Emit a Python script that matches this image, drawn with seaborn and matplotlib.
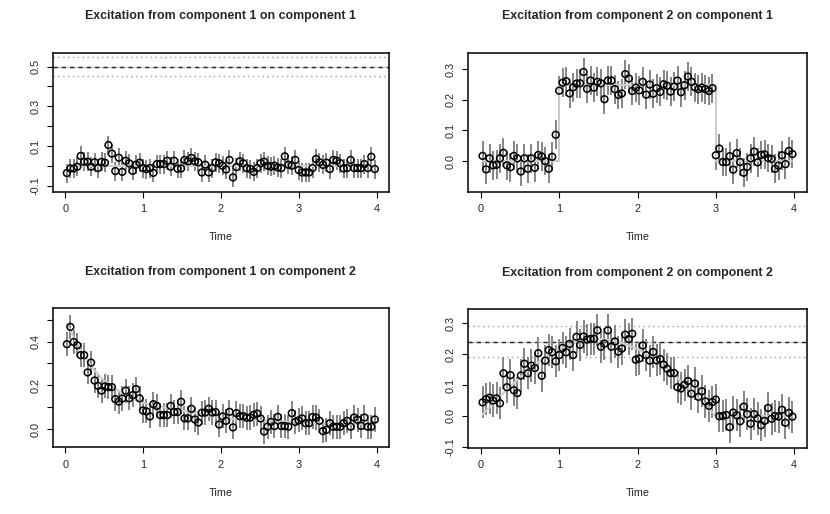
# excitation_panels.py
# Four panels of estimated excitation kernels with error bars, true kernel in light grey.

import numpy as np
import pandas as pd
import matplotlib
matplotlib.use("Agg")
import matplotlib.pyplot as plt
import seaborn as sns

# Bin centres on the time axis
time = [0.022, 0.067, 0.111, 0.156, 0.200, 0.244, 0.289, 0.333, 0.378, 0.422,
        0.467, 0.511, 0.556, 0.600, 0.644, 0.689, 0.733, 0.778, 0.822, 0.867,
        0.911, 0.956, 1.000, 1.044, 1.089, 1.133, 1.178, 1.222, 1.267, 1.311,
        1.356, 1.400, 1.444, 1.489, 1.533, 1.578, 1.622, 1.667, 1.711, 1.756,
        1.800, 1.844, 1.889, 1.933, 1.978, 2.022, 2.067, 2.111, 2.156, 2.200,
        2.244, 2.289, 2.333, 2.378, 2.422, 2.467, 2.511, 2.556, 2.600, 2.644,
        2.689, 2.733, 2.778, 2.822, 2.867, 2.911, 2.956, 3.000, 3.044, 3.089,
        3.133, 3.178, 3.222, 3.267, 3.311, 3.356, 3.400, 3.444, 3.489, 3.533,
        3.578, 3.622, 3.667, 3.711, 3.756, 3.800, 3.844, 3.889, 3.933, 3.978]

# Estimated kernels
est_11 = [-0.036, -0.013, -0.013, -0.004, 0.050, 0.021, 0.021, -0.004, 0.018, -0.011,
          0.020, 0.016, 0.105, 0.062, -0.026, 0.041, -0.030, 0.026, 0.013, -0.025,
          0.006, 0.016, -0.011, -0.016, -0.011, -0.035, 0.009, 0.009, 0.009, 0.026,
          -0.004, 0.026, -0.014, -0.013, 0.030, 0.023, 0.040, 0.023, 0.018, -0.033,
          0.006, -0.033, -0.011, 0.018, 0.013, 0.001, -0.018, 0.030, -0.058, -0.006,
          0.023, 0.013, -0.011, -0.016, -0.030, -0.011, 0.013, 0.021, 0.001, -0.004,
          0.001, -0.008, -0.011, 0.048, 0.006, 0.001, 0.030, -0.021, -0.033, -0.033,
          -0.033, -0.011, 0.035, 0.018, 0.005, 0.016, -0.016, 0.030, 0.026, 0.014,
          -0.013, -0.011, 0.030, -0.011, -0.011, -0.011, 0.009, -0.011, 0.046, -0.016]
est_21 = [0.017, -0.027, 0.009, -0.014, -0.012, 0.009, 0.027, -0.014, -0.020, 0.017,
          0.009, -0.034, 0.009, -0.025, 0.009, -0.022, 0.020, 0.015, 0.000, -0.025,
          0.014, 0.086, 0.230, 0.256, 0.261, 0.221, 0.241, 0.253, 0.254, 0.291,
          0.236, 0.263, 0.240, 0.259, 0.254, 0.202, 0.263, 0.263, 0.235, 0.216,
          0.221, 0.284, 0.270, 0.229, 0.240, 0.231, 0.259, 0.217, 0.250, 0.220,
          0.238, 0.226, 0.251, 0.246, 0.227, 0.243, 0.263, 0.225, 0.248, 0.276,
          0.259, 0.241, 0.235, 0.240, 0.235, 0.229, 0.238, 0.019, 0.041, -0.003,
          -0.003, 0.016, -0.028, 0.026, -0.003, -0.038, -0.019, 0.009, 0.031, -0.004,
          0.020, 0.022, 0.010, 0.007, -0.025, -0.015, 0.019, -0.010, 0.033, 0.023]
est_12 = [0.388, 0.467, 0.398, 0.383, 0.338, 0.338, 0.259, 0.304, 0.222, 0.198,
          0.176, 0.195, 0.192, 0.192, 0.137, 0.126, 0.140, 0.176, 0.141, 0.155,
          0.183, 0.141, 0.085, 0.081, 0.058, 0.114, 0.106, 0.064, 0.064, 0.064,
          0.106, 0.078, 0.078, 0.125, 0.049, 0.049, 0.093, 0.044, 0.030, 0.075,
          0.076, 0.093, 0.076, 0.078, 0.021, 0.058, 0.038, 0.079, 0.008, 0.073,
          0.059, 0.059, 0.052, 0.053, 0.065, 0.071, 0.049, -0.011, 0.011, 0.033,
          0.014, 0.056, 0.014, 0.014, 0.011, 0.073, 0.033, 0.040, 0.049, 0.027,
          0.027, 0.055, 0.053, 0.038, -0.009, -0.003, 0.027, 0.011, 0.011, 0.011,
          0.027, 0.038, 0.011, 0.053, 0.043, 0.015, 0.053, 0.011, 0.011, 0.044]
est_22 = [0.044, 0.054, 0.059, 0.050, 0.057, 0.041, 0.138, 0.093, 0.132, 0.083,
          0.074, 0.131, 0.169, 0.138, 0.163, 0.155, 0.203, 0.130, 0.179, 0.213,
          0.206, 0.177, 0.197, 0.220, 0.206, 0.233, 0.197, 0.256, 0.230, 0.257,
          0.247, 0.249, 0.250, 0.277, 0.224, 0.234, 0.277, 0.224, 0.241, 0.208,
          0.218, 0.263, 0.249, 0.266, 0.182, 0.186, 0.228, 0.197, 0.179, 0.207,
          0.180, 0.184, 0.166, 0.153, 0.139, 0.139, 0.093, 0.089, 0.101, 0.113,
          0.072, 0.105, 0.062, 0.080, 0.047, 0.033, 0.045, 0.053, -0.001, 0.000,
          0.003, -0.036, 0.011, 0.002, -0.017, 0.030, 0.006, -0.025, 0.006, -0.008,
          -0.030, -0.016, 0.026, -0.009, 0.000, -0.002, 0.020, -0.022, 0.010, -0.002]

# Error bar half-widths
err_11 = 0.048
err_21 = 0.047
err_12 = 0.055
err_22 = 0.052

# True kernels
true_t_11 = [0.022, 3.978]
true_v_11 = [0.0, 0.0]
true_t_21 = [0.022, 1.0, 1.0, 3.0, 3.0, 3.978]
true_v_21 = [0.0, 0.0, 0.25, 0.25, 0.0, 0.0]
true_t_12 = [0.022, 0.2, 0.35, 0.5, 0.75, 1.0, 1.25, 1.5, 2.0, 2.5, 3.0, 3.5, 3.978]
true_v_12 = [0.48, 0.36, 0.28, 0.22, 0.16, 0.12, 0.10, 0.085, 0.05, 0.04, 0.03, 0.025, 0.02]
true_t_22 = [0.022, 0.25, 0.5, 0.75, 1.0, 1.25, 1.5, 1.75, 2.0, 2.25, 2.5, 2.75, 3.0, 3.978]
true_v_22 = [0.005, 0.065, 0.125, 0.177, 0.217, 0.241, 0.25, 0.241, 0.217, 0.177, 0.125, 0.065, 0.0, 0.0]

# Reference level with band (only in the diagonal panels)
ref_11 = (0.5, 0.046)
ref_22 = (0.24, 0.05)

titles = ["Excitation from component 1 on component 1",
          "Excitation from component 2 on component 1",
          "Excitation from component 1 on component 2",
          "Excitation from component 2 on component 2"]

yticks_11 = [-0.1, 0.0, 0.1, 0.2, 0.3, 0.4, 0.5]
ylabels_11 = ["-0.1", "", "0.1", "", "0.3", "", "0.5"]
yticks_21 = [0.0, 0.1, 0.2, 0.3]
ylabels_21 = ["0.0", "0.1", "0.2", "0.3"]
yticks_12 = [0.0, 0.1, 0.2, 0.3, 0.4, 0.5]
ylabels_12 = ["0.0", "", "0.2", "", "0.4", ""]
yticks_22 = [-0.1, 0.0, 0.1, 0.2, 0.3]
ylabels_22 = ["-0.1", "0.0", "0.1", "0.2", "0.3"]
xticks = [0, 1, 2, 3, 4]

ylims = [(-0.130, 0.570), (-0.100, 0.354), (-0.083, 0.552), (-0.102, 0.346)]

sns.set_style("ticks")
plt.rcParams['font.family'] = ['Liberation Sans', 'DejaVu Sans']

W, H = 830, 514
fig = plt.figure(figsize=(W / 100, H / 100), dpi=100)

boxes = [(52.7, 52.7, 389.0, 191.7), (468.3, 52.7, 806.7, 191.7),
         (52.7, 308.3, 389.0, 447.3), (468.3, 309.0, 806.7, 447.5)]

panels = [
    (est_11, err_11, true_t_11, true_v_11, ref_11, yticks_11, ylabels_11),
    (est_21, err_21, true_t_21, true_v_21, None, yticks_21, ylabels_21),
    (est_12, err_12, true_t_12, true_v_12, None, yticks_12, ylabels_12),
    (est_22, err_22, true_t_22, true_v_22, ref_22, yticks_22, ylabels_22),
]

for i, (est, err, tt, tv, ref, yt, yl) in enumerate(panels):
    x0, y0, x1, y1 = boxes[i]
    ax = fig.add_axes([x0 / W, 1 - y1 / H, (x1 - x0) / W, (y1 - y0) / H])
    df = pd.DataFrame({"time": time, "est": est})

    if ref is not None:
        level, band = ref
        ax.axhline(level, color="#c8c8c8", lw=1.0, zorder=1)
        ax.axhline(level, color="#222222", lw=1.0, ls=(0, (3, 3)), zorder=2)
        ax.axhline(level + band, color="#9a9a9a", lw=1.0, ls=(0, (1, 2.5)), zorder=1)
        ax.axhline(level - band, color="#9a9a9a", lw=1.0, ls=(0, (1, 2.5)), zorder=1)

    ax.vlines(df["time"], df["est"] - err, df["est"] + err,
              color="#858585", lw=1.4, zorder=2)
    sns.lineplot(x=tt, y=tv, ax=ax, color="#cccccc", lw=1.5,
                 sort=False, estimator=None, zorder=3)
    sns.scatterplot(data=df, x="time", y="est", ax=ax, marker="o", s=24,
                    facecolor="none", edgecolor="black", linewidth=1.1, zorder=4)

    ax.set_xlim(-0.16, 4.16)
    ax.set_ylim(*ylims[i])
    ax.set_xticks(xticks)
    ax.set_xticklabels([str(v) for v in xticks])
    ax.set_yticks(yt)
    ax.set_yticklabels(yl, rotation=90, va="center")
    ax.tick_params(axis="both", direction="out", length=4, width=0.8,
                   labelsize=7.8, color="black")
    ax.tick_params(axis="x", pad=5)
    ax.tick_params(axis="y", pad=5)
    for sp in ax.spines.values():
        sp.set_linewidth(1.1)
        sp.set_color("black")
    ax.set_xlabel("Time", fontsize=7.8, labelpad=13)
    ax.set_ylabel("")
    ax.set_title(titles[i], fontsize=8.9, fontweight="bold", pad=24)

fig.savefig("out.png", dpi=100)
